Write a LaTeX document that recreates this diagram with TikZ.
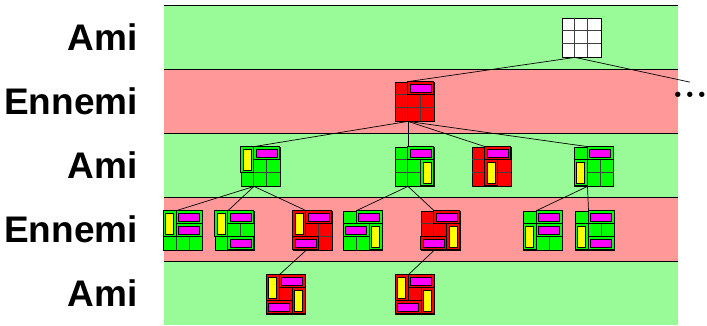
\documentclass[tikz,border=0pt]{standalone}
\usepackage{fontspec}
\setsansfont{Liberation Sans}

\definecolor{fondvert}{RGB}{152,251,152}
\definecolor{fondrouge}{RGB}{255,153,153}
\definecolor{jvert}{RGB}{0,255,0}
\definecolor{jrouge}{RGB}{255,0,0}
\definecolor{jjaune}{RGB}{255,255,0}
\definecolor{jmagenta}{RGB}{255,0,255}

\tikzset{
  plateau/.style={draw=black, line width=0.8pt, minimum size=39pt, inner sep=0pt},
  etiquette/.style={anchor=east, inner sep=0pt, font=\fontsize{37}{40}\selectfont\sffamily\bfseries},
  arete/.style={line width=0.7pt},
  case/.style={draw=black!75, line width=0.7pt},
  contour/.style={draw=black, line width=0.8pt}
}

% board: name, x, y, colour
\newcommand{\plateau}[4]{
  \node[plateau, fill=#4] (#1) at (#2,#3) {};
  \foreach \k in {13,26} {
    \draw[case] ([xshift=\k pt]#1.north west) -- ([xshift=\k pt]#1.south west);
    \draw[case] ([yshift=-\k pt]#1.north west) -- ([yshift=-\k pt]#1.north east);
  }
}
% vertical piece: board, column, row, colour
\newcommand{\vpion}[4]{
  \draw[contour, fill=#4] ([shift={({13*(#2-1)},{13*(#3-1)})}]#1.north west) rectangle ([shift={({13*#2},{13*(#3+1)})}]#1.north west);
  \draw[contour, fill=jjaune] ([shift={({13*(#2-1)+2.5},{13*(#3-1)+2.5})}]#1.north west) rectangle ([shift={({13*#2-2.5},{13*(#3+1)-2.5})}]#1.north west);
}
% horizontal piece: board, column, row, colour
\newcommand{\hpion}[4]{
  \draw[contour, fill=#4] ([shift={({13*(#2-1)},{13*(#3-1)})}]#1.north west) rectangle ([shift={({13*(#2+1)},{13*#3})}]#1.north west);
  \draw[contour, fill=jmagenta] ([shift={({13*(#2-1)+2.5},{13*(#3-1)+2.5})}]#1.north west) rectangle ([shift={({13*(#2+1)-2.5},{13*#3-2.5})}]#1.north west);
}
\newcommand{\lien}[2]{\draw[arete] ([xshift=-6.5pt]#1.south) -- ([xshift=-6.5pt]#2.north);}

\begin{document}
\begin{tikzpicture}[x=1pt,y=-1pt]
\useasboundingbox (0,0) rectangle (707,325);

\foreach \y/\c in {5/fondvert,69/fondrouge,133/fondvert,197/fondrouge,261/fondvert}
  \fill[\c] (164,\y) rectangle (678,\y+64);
\foreach \y in {5,69,133,197,261}
  \draw[line width=0.8pt] (164,\y) -- (678,\y);

\node[etiquette] (ami1) at (138,37) {Ami};
\node[etiquette] (ennemi1) at (138,101) {Ennemi};
\node[etiquette] (ami2) at (138,165) {Ami};
\node[etiquette] (ennemi2) at (138,229) {Ennemi};
\node[etiquette] (ami3) at (138,293) {Ami};

\node[inner xsep=0pt, inner ysep=10pt, font=\fontsize{37}{42}\selectfont\bfseries] (suite) at (690,95) {.\kern0.5pt.\kern0.5pt.};

\plateau{racine}{581.5}{37.5}{white}

\plateau{e1}{414.5}{101.5}{jrouge}
\hpion{e1}{2}{1}{jrouge}

\plateau{a1}{260.5}{166.5}{jvert}
\vpion{a1}{1}{1}{jvert} \hpion{a1}{2}{1}{jvert}
\plateau{a2}{414.5}{166.5}{jvert}
\hpion{a2}{2}{1}{jvert} \vpion{a2}{3}{2}{jvert}
\plateau{a3}{491.5}{166.5}{jrouge}
\hpion{a3}{2}{1}{jrouge} \vpion{a3}{2}{2}{jrouge}
\plateau{a4}{594}{166.5}{jvert}
\hpion{a4}{2}{1}{jvert} \vpion{a4}{1}{2}{jvert}

\plateau{b1}{183}{230.5}{jvert}
\vpion{b1}{1}{1}{jvert} \hpion{b1}{2}{1}{jvert} \hpion{b1}{2}{2}{jvert}
\plateau{b2}{234.5}{230.5}{jvert}
\vpion{b2}{1}{1}{jvert} \hpion{b2}{2}{1}{jvert} \hpion{b2}{2}{3}{jvert}
\plateau{b3}{312.5}{230.5}{jrouge}
\vpion{b3}{1}{1}{jrouge} \hpion{b3}{2}{1}{jrouge} \hpion{b3}{1}{3}{jrouge}
\plateau{b4}{363}{230.5}{jvert}
\hpion{b4}{2}{1}{jvert} \hpion{b4}{1}{2}{jvert} \vpion{b4}{3}{2}{jvert}
\plateau{b5}{440.5}{230.5}{jrouge}
\hpion{b5}{2}{1}{jrouge} \vpion{b5}{3}{2}{jrouge} \hpion{b5}{1}{3}{jrouge}
\plateau{b6}{543}{230.5}{jvert}
\hpion{b6}{2}{1}{jvert} \vpion{b6}{1}{2}{jvert} \hpion{b6}{2}{2}{jvert}
\plateau{b7}{595}{230.5}{jvert}
\hpion{b7}{2}{1}{jvert} \vpion{b7}{1}{2}{jvert} \hpion{b7}{2}{3}{jvert}

\plateau{c1}{286}{294.5}{jrouge}
\vpion{c1}{1}{1}{jrouge} \hpion{c1}{2}{1}{jrouge} \vpion{c1}{3}{2}{jrouge} \hpion{c1}{1}{3}{jrouge}
\plateau{c2}{415}{294.5}{jrouge}
\vpion{c2}{1}{1}{jrouge} \hpion{c2}{2}{1}{jrouge} \vpion{c2}{3}{2}{jrouge} \hpion{c2}{1}{3}{jrouge}

\lien{racine}{e1}
\draw[arete] ([xshift=-6.5pt]racine.south) -- (suite.north);
\lien{e1}{a1} \lien{e1}{a2} \lien{e1}{a3} \lien{e1}{a4}
\lien{a1}{b1} \lien{a1}{b2} \lien{a1}{b3}
\lien{a2}{b4} \lien{a2}{b5}
\lien{a4}{b6} \lien{a4}{b7}
\lien{b3}{c1}
\lien{b5}{c2}

\end{tikzpicture}
\end{document}
